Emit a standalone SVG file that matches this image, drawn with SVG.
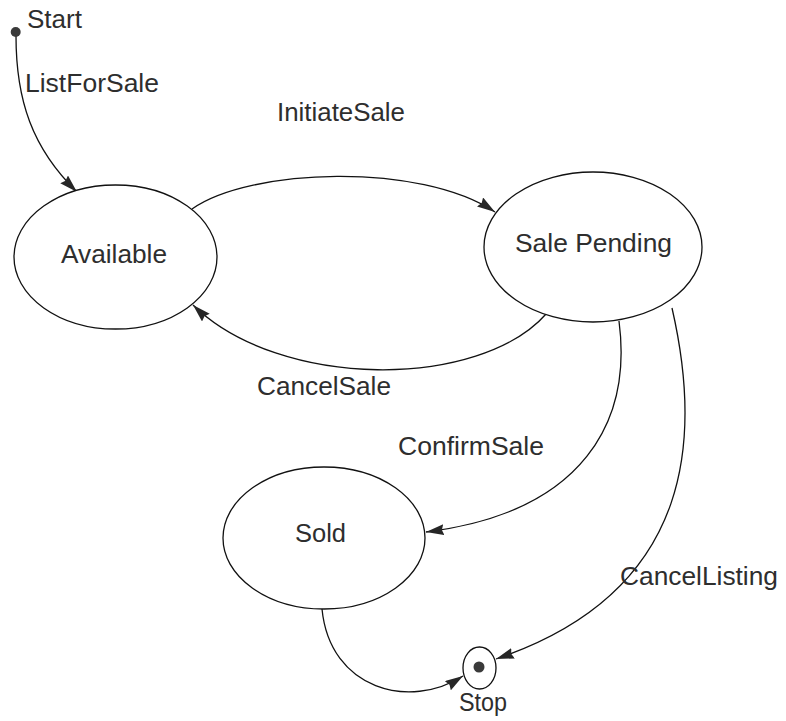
<svg xmlns="http://www.w3.org/2000/svg" width="786" height="721" viewBox="0 0 786 721">
  <style>
    .state { fill: #ffffff; stroke: #111111; stroke-width: 1.3; }
    .edge { fill: none; stroke: #111111; stroke-width: 1.3; marker-end: url(#arrow); }
    .label { font-family: "Liberation Sans", Arial, sans-serif; font-size: 25px; fill: #2e2e2e; }
    .dot { fill: #3a3a3a; }
  </style>
  <defs>
    <!-- filled triangular arrowhead shared by all transitions -->
    <marker id="arrow" viewBox="0 0 18 11" refX="18" refY="5.5" markerWidth="18" markerHeight="11" markerUnits="userSpaceOnUse" orient="auto">
      <path d="M0,0 L18,5.5 L0,11 L2,5.5 Z" fill="#262626"/>
    </marker>
  </defs>

  <rect width="786" height="721" fill="#ffffff"/>

  <!-- transitions -->
  <g id="connectors">
    <path id="e-list" class="edge" d="M16,36 C16,100 32,148 77,192"/>
    <path id="e-initiate" class="edge" d="M192,209 C250,168 420,162 495,212"/>
    <path id="e-cancelsale" class="edge" d="M547,313 C480,390 280,390 193,305"/>
    <path id="e-confirm" class="edge" d="M619,321 C632,420 585,512 426,532"/>
    <path id="e-cancellisting" class="edge" d="M672,308 C700,430 700,590 496,659"/>
    <path id="e-sold-stop" class="edge" d="M322,609 C330,690 410,710 463,676"/>
  </g>

  <!-- transition labels -->
  <g id="edge-labels">
    <text class="label" x="25" y="92" textLength="134" lengthAdjust="spacingAndGlyphs">ListForSale</text>
    <text class="label" x="277" y="121" textLength="128" lengthAdjust="spacingAndGlyphs">InitiateSale</text>
    <text class="label" x="257" y="395" textLength="134" lengthAdjust="spacingAndGlyphs">CancelSale</text>
    <text class="label" x="398" y="455" textLength="146" lengthAdjust="spacingAndGlyphs">ConfirmSale</text>
    <text class="label" x="620" y="585" textLength="158" lengthAdjust="spacingAndGlyphs">CancelListing</text>
  </g>

  <!-- initial pseudo-state -->
  <g id="start">
    <circle class="dot" cx="15.7" cy="32" r="5"/>
    <text class="label" x="27" y="28" textLength="55" lengthAdjust="spacingAndGlyphs">Start</text>
  </g>

  <g id="available">
    <ellipse class="state" cx="115.5" cy="257" rx="101.5" ry="72"/>
    <text class="label" x="61" y="263" textLength="106" lengthAdjust="spacingAndGlyphs">Available</text>
  </g>

  <g id="sale-pending">
    <ellipse class="state" cx="593" cy="247" rx="109" ry="75"/>
    <text class="label" x="515" y="252" textLength="157" lengthAdjust="spacingAndGlyphs">Sale Pending</text>
  </g>

  <g id="sold">
    <ellipse class="state" cx="324" cy="538" rx="101" ry="71"/>
    <text class="label" x="295" y="542" textLength="51" lengthAdjust="spacingAndGlyphs">Sold</text>
  </g>

  <!-- final pseudo-state -->
  <g id="stop">
    <ellipse class="state" cx="479.5" cy="668" rx="16.5" ry="21"/>
    <circle class="dot" cx="479" cy="667" r="5.5"/>
    <text class="label" x="459" y="711" textLength="48" lengthAdjust="spacingAndGlyphs">Stop</text>
  </g>
</svg>
